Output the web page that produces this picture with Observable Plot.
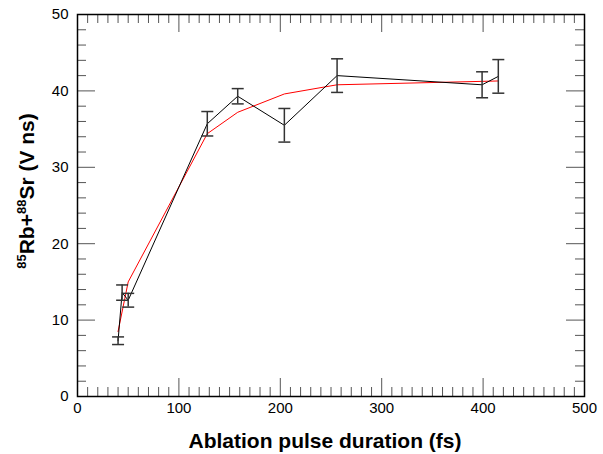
<!DOCTYPE html>
<html>
<head>
<meta charset="utf-8">
<script src="https://cdn.jsdelivr.net/npm/d3@7"></script>
<script src="https://cdn.jsdelivr.net/npm/@observablehq/plot@0.6"></script>
<style>
  html, body { margin: 0; padding: 0; background: #fff; }
</style>
</head>
<body>
<div id="chart"></div>
<script>
// Measured data (black, with error bars)
const pulseFs = [40, 44, 50, 128, 158, 204, 256, 399, 415];
const signal = [7.3, 13.6, 12.6, 35.7, 39.3, 35.5, 42.0, 40.8, 41.9];
const signalErr = [0.5, 1.0, 0.9, 1.6, 1.0, 2.2, 2.2, 1.7, 2.2];
// Model curve (red)
const fitFs = [40, 50, 128, 158, 204, 256, 399, 415];
const fitSignal = [8.5, 15.0, 34.4, 37.2, 39.6, 40.8, 41.25, 41.3];
// Ticks
const xMajor = [0, 100, 200, 300, 400, 500];
const xMinor = d3.range(0, 501, 10).filter(v => v % 100 !== 0);
const yMajor = [0, 10, 20, 30, 40, 50];
const yMinor = d3.range(0, 51, 2).filter(v => v % 10 !== 0);
const xTitle = "Ablation pulse duration (fs)";

const meas = pulseFs.map((x, i) => ({x, y: signal[i], lo: signal[i] - signalErr[i], hi: signal[i] + signalErr[i]}));
const fit = fitFs.map((x, i) => ({x, y: fitSignal[i]}));

const font = "Liberation Sans, Arial, Helvetica, sans-serif";
const cap = {draw(ctx) { ctx.moveTo(-6, 0); ctx.lineTo(6, 0); }};
const tickColor = "#555";

const W = 603, H = 454, mt = 14, mr = 19, mb = 58, ml = 77;
const fw = W - ml - mr, fh = H - mt - mb;

const chart = Plot.plot({
  width: W, height: H,
  marginTop: mt, marginRight: mr, marginBottom: mb, marginLeft: ml,
  style: {fontFamily: font, fontSize: "15px", background: "#fff", color: "#000", overflow: "visible"},
  x: {domain: [0, 500]},
  y: {domain: [0, 50]},
  marks: [
    Plot.axisX(xMajor, {tickSize: 0, tickPadding: 6, label: null, fontSize: 15}),
    Plot.axisY(yMajor, {tickSize: 0, tickPadding: 9, label: null, fontSize: 15}),
    // inward ticks, all four sides
    Plot.tickX(xMajor, {x: d => d, insetTop: fh - 18, stroke: tickColor}),
    Plot.tickX(xMinor, {x: d => d, insetTop: fh - 9, stroke: tickColor}),
    Plot.tickX(xMajor, {x: d => d, insetBottom: fh - 18, stroke: tickColor}),
    Plot.tickX(xMinor, {x: d => d, insetBottom: fh - 9, stroke: tickColor}),
    Plot.tickY(yMajor, {y: d => d, insetRight: fw - 18, stroke: tickColor}),
    Plot.tickY(yMinor, {y: d => d, insetRight: fw - 9, stroke: tickColor}),
    Plot.tickY(yMajor, {y: d => d, insetLeft: fw - 18, stroke: tickColor}),
    Plot.tickY(yMinor, {y: d => d, insetLeft: fw - 9, stroke: tickColor}),
    // model
    Plot.line(fit, {x: "x", y: "y", stroke: "#ff0000", strokeWidth: 1}),
    // measured
    Plot.line(meas, {x: "x", y: "y", stroke: "#000", strokeWidth: 1}),
    Plot.ruleX(meas, {x: "x", y1: "lo", y2: "hi", stroke: "#333", strokeWidth: 1.5}),
    Plot.dot(meas, {x: "x", y: "lo", symbol: cap, stroke: "#333", strokeWidth: 1.5, fill: "none"}),
    Plot.dot(meas, {x: "x", y: "hi", symbol: cap, stroke: "#333", strokeWidth: 1.5, fill: "none"}),
    Plot.frame({stroke: "#000", strokeWidth: 1.5})
  ]
});
document.getElementById("chart").appendChild(chart);

const svg = d3.select(chart);
svg.append("text")
  .attr("x", 325).attr("y", 448)
  .attr("text-anchor", "middle")
  .attr("font-family", font).attr("font-weight", "bold").attr("font-size", 21)
  .attr("fill", "#000")
  .text(xTitle);

const yt = svg.append("text")
  .attr("transform", "translate(34,191) rotate(-90)")
  .attr("text-anchor", "middle")
  .attr("font-family", font).attr("font-weight", "bold").attr("font-size", 21)
  .attr("fill", "#000");
yt.append("tspan").attr("font-size", 13).attr("dy", -8).text("85");
yt.append("tspan").attr("dy", 8).text("Rb+");
yt.append("tspan").attr("font-size", 13).attr("dy", -8).text("88");
yt.append("tspan").attr("dy", 8).text("Sr (V ns)");
</script>
</body>
</html>
